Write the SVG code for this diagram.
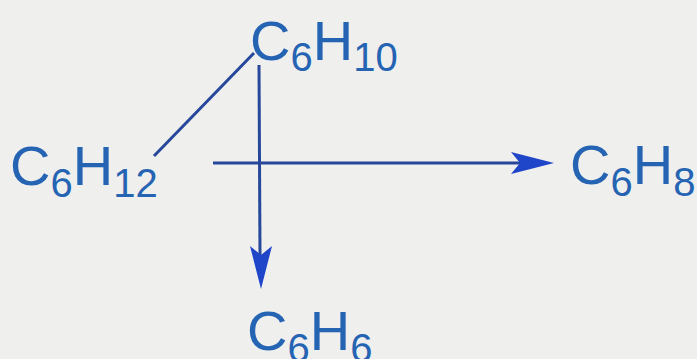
<svg xmlns="http://www.w3.org/2000/svg" width="697" height="359" viewBox="0 0 697 359">
<style>
.t{font-family:"Liberation Sans",Arial,sans-serif;font-size:56px;fill:#2563b3}
.s{font-size:40px}
.ln{stroke:#26479a;stroke-width:3;fill:none}
.ah{fill:#1f45c8}
</style>
<rect width="697" height="359" fill="#efefee"/>
<g id="connectors">
<line class="ln" x1="154" y1="156" x2="254" y2="53"/>
<line class="ln" x1="259" y1="65" x2="260" y2="255"/>
<polygon class="ah" points="261,289 250,246 261,255 272,246"/>
<line class="ln" x1="213" y1="163" x2="520" y2="163"/>
<polygon class="ah" points="554,163 511,152 520,163 511,174"/>
</g>
<g id="n-c6h12"><text class="t" x="10" y="185">C<tspan class="s" dy="12">6</tspan><tspan dy="-12">H</tspan><tspan class="s" dy="12">12</tspan></text></g>
<g id="n-c6h10"><text class="t" x="250" y="60">C<tspan class="s" dy="11">6</tspan><tspan dy="-11">H</tspan><tspan class="s" dy="11">10</tspan></text></g>
<g id="n-c6h8"><text class="t" x="570" y="184">C<tspan class="s" dy="12">6</tspan><tspan dy="-12">H</tspan><tspan class="s" dy="12">8</tspan></text></g>
<g id="n-c6h6"><text class="t" x="247" y="350">C<tspan class="s" dy="12">6</tspan><tspan dy="-12">H</tspan><tspan class="s" dy="12">6</tspan></text></g>
</svg>
